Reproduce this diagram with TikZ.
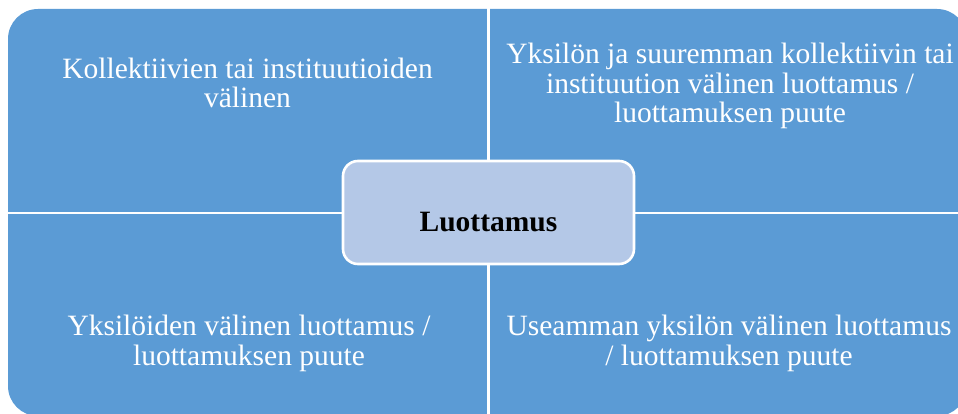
\documentclass[tikz,border=0pt]{standalone}
\usepackage{fontspec}
\setmainfont{Liberation Serif}
\definecolor{qblue}{HTML}{5B9BD5}
\definecolor{cblue}{HTML}{B4C8E7}
\begin{document}
\begin{tikzpicture}[x=1pt,y=-1pt,
  lbl/.style={text=white,font=\fontsize{29.5}{29.5}\selectfont,align=center,anchor=base,inner sep=0pt},
  divider/.style={white,line width=2.6pt},
  centerbox/.style={fill=cblue,draw=white,line width=2.6pt,rounded corners=15pt,inner sep=0pt,minimum width=291pt,minimum height=103pt}]
\useasboundingbox (0,0) rectangle (958,414);
\begin{scope}
\clip (0,0) rectangle (958,414);
\fill[qblue,rounded corners=30pt] (8,9) rectangle (967,416);
\draw[divider] (488.5,0) -- (488.5,420);
\draw[divider] (0,213) -- (970,213);
\end{scope}
\node[lbl] (q1) at (247.5,108) {Kollektiivien tai instituutioiden\\välinen};
\node[lbl] (q2) at (730,123) {Yksilön ja suuremman kollektiivin tai\\instituution välinen luottamus /\\luottamuksen puute};
\node[lbl] (q3) at (249,365) {Yksilöiden välinen luottamus /\\luottamuksen puute};
\node[lbl] (q4) at (729,365) {Useamman yksilön välinen luottamus\\/ luottamuksen puute};
\node[centerbox] (c) at (488.5,212.5) {};
\node[anchor=base,inner sep=0pt,font=\fontsize{29.5}{29.5}\selectfont\bfseries] (ct) at (488.5,231) {Luottamus};
\end{tikzpicture}
\end{document}
